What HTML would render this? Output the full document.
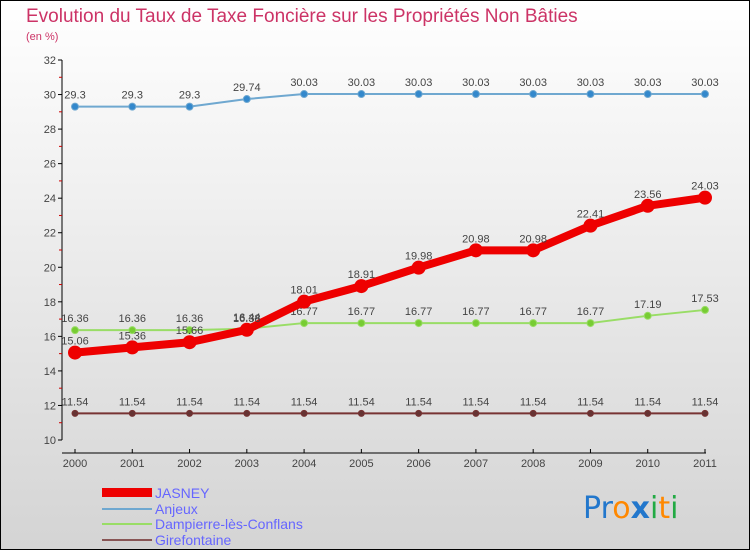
<!DOCTYPE html>
<html><head><meta charset="utf-8"><style>
body{margin:0}
#c{width:750px;height:550px;position:relative;overflow:hidden;font-family:"Liberation Sans",sans-serif}
</style></head><body>
<div id="c">
<svg id="s" width="750" height="550" xmlns="http://www.w3.org/2000/svg">
<defs><linearGradient id="bg" x1="0" y1="0" x2="0" y2="1"><stop offset="0" stop-color="#ffffff"/><stop offset="1" stop-color="#d4d4d4"/></linearGradient></defs>
<rect x="0.5" y="0.5" width="749" height="549" fill="url(#bg)" stroke="#000"/>
<text x="26" y="22" font-size="19" fill="#cc3366">Evolution du Taux de Taxe Foncière sur les Propriétés Non Bâties</text>
<text x="26" y="40" font-size="11" fill="#cc3366">(en %)</text>
<g id="axes"></g><g id="series"></g>
<g>
<rect x="102" y="488" width="50" height="9" fill="#ee0000"/>
<text x="155" y="498" font-size="14" fill="#6666ff">JASNEY</text>
<line x1="102" y1="509" x2="152" y2="509" stroke="#6fa8d0" stroke-width="2"/>
<text x="155" y="514" font-size="14" fill="#6666ff">Anjeux</text>
<line x1="102" y1="524" x2="152" y2="524" stroke="#99dd66" stroke-width="2"/>
<text x="155" y="529" font-size="14" fill="#6666ff">Dampierre-lès-Conflans</text>
<line x1="102" y1="540" x2="152" y2="540" stroke="#885555" stroke-width="2"/>
<text x="155" y="545" font-size="14" fill="#6666ff">Girefontaine</text>
</g>
<g font-size="30" font-family="'DejaVu Sans',sans-serif">
<text x="583" y="518"><tspan fill="#2277cc">Pr</tspan><tspan fill="#ff8800">o</tspan><tspan fill="#2277cc" font-weight="bold">x</tspan><tspan fill="#22aa44">i</tspan><tspan fill="#ff8800">t</tspan><tspan fill="#22aa44">i</tspan></text>
</g>
</svg>
</div>
<script>
const years=["2000","2001","2002","2003","2004","2005","2006","2007","2008","2009","2010","2011"];
const yTicks=[10,12,14,16,18,20,22,24,26,28,30,32];
const jasney=[15.06,15.36,15.66,16.38,18.01,18.91,19.98,20.98,20.98,22.41,23.56,24.03];
const anjeux=[29.3,29.3,29.3,29.74,30.03,30.03,30.03,30.03,30.03,30.03,30.03,30.03];
const dampierre=[16.36,16.36,16.36,16.44,16.77,16.77,16.77,16.77,16.77,16.77,17.19,17.53];
const girefontaine=[11.54,11.54,11.54,11.54,11.54,11.54,11.54,11.54,11.54,11.54,11.54,11.54];
const NS="http://www.w3.org/2000/svg";
const X=i=>75+i*(630/11);
const Y=v=>440-(v-10)*(380/22);
function mk(t,a,p){const e=document.createElementNS(NS,t);for(const k in a)e.setAttribute(k,a[k]);p.appendChild(e);return e;}
const ax=document.getElementById('axes');
let yl=mk('line',{x1:62,y1:60,x2:62,y2:440,stroke:'#000'},ax);


yTicks.forEach(v=>{
 mk('line',{x1:58,y1:Y(v),x2:62,y2:Y(v),stroke:'#000'},ax);
 if(v<32)mk('line',{x1:59,y1:Y(v+1),x2:62,y2:Y(v+1),stroke:'#cc0000'},ax);
 const t=mk('text',{x:56,y:Y(v)+4,'font-size':11,fill:'#444','text-anchor':'end'},ax);t.textContent=v;
 
 
});
let xl=mk('line',{x1:62,y1:453,x2:706,y2:453,stroke:'#000'},ax);


years.forEach((y,i)=>{
 mk('line',{x1:X(i),y1:449,x2:X(i),y2:453,stroke:'#000'},ax);
 const t=mk('text',{x:X(i),y:467,'font-size':11,fill:'#444','text-anchor':'middle'},ax);t.textContent=y;
 
 
});
const sg=document.getElementById('series');
function series(name,data,color,w,r,dot){
 const g=mk('g',{},sg);
 
 
 const p=mk('polyline',{points:data.map((v,i)=>X(i)+','+Y(v)).join(' '),fill:'none',stroke:color,'stroke-width':w,'stroke-linejoin':'round'},g);
 
 
 data.forEach((v,i)=>{
  const c=mk('circle',{cx:X(i),cy:Y(v),r:r,fill:dot,stroke:color,'stroke-width':1},g);
  
  
  const t=mk('text',{x:X(i),y:Y(v)-8,'font-size':11,fill:'#444','text-anchor':'middle'},g);t.textContent=v;
  
  
 });
}
series('girefontaine',girefontaine,'#773333',2,3,'#663333');
series('dampierre',dampierre,'#99dd66',2,3.5,'#77cc33');
series('anjeux',anjeux,'#6fa8d0',2,3.5,'#3388cc');
series('jasney',jasney,'#ee0000',8,6.5,'#ee0000');
</script>
</body></html>
